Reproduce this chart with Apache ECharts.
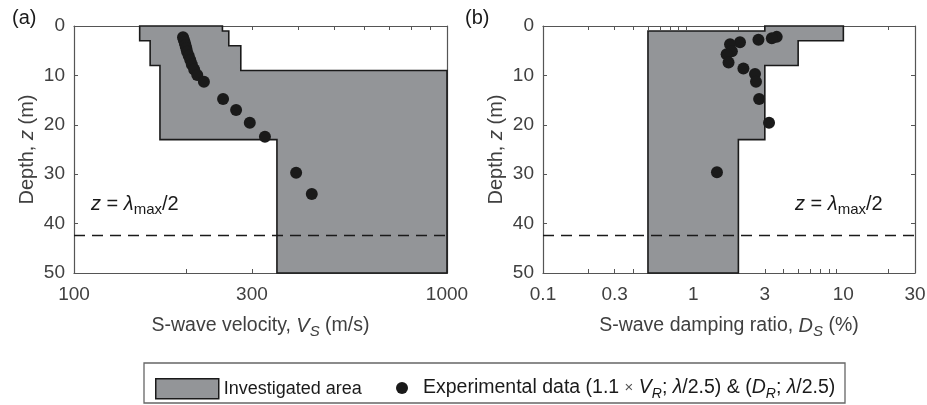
<!DOCTYPE html>
<html>
<head>
<meta charset="utf-8">
<script src="https://cdn.jsdelivr.net/npm/echarts@6/dist/echarts.min.js"></script>
</head>
<body style="margin:0">
<div id="main" style="width:927px;height:405px"></div>
<script>
// investigated area, as step profiles: layer boundaries (m) and layer values
var vsLowDepth = [0, 3, 8, 23, 50];
var vsLow = [150, 160, 170, 350];
var vsHighDepth = [0, 1, 4, 9, 50];
var vsHigh = [250, 260, 280, 1000];
var dsLowDepth = [0, 1, 50];
var dsLow = [3, 0.5];
var dsHighDepth = [0, 3, 8, 23, 50];
var dsHigh = [10, 5, 3, 2];

// experimental data
var vsExp = [196, 197, 198, 199, 200, 201, 203, 205, 207, 210, 214, 223, 251, 272, 296, 325, 394, 434];
var vsExpDepth = [2.3, 2.8, 3.3, 3.9, 4.5, 5.2, 6.0, 6.9, 7.8, 8.8, 9.9, 11.3, 14.8, 17.0, 19.6, 22.4, 29.7, 34.0];
var dsExp = [3.6, 3.34, 2.72, 2.05, 1.76, 1.81, 1.67, 1.72, 2.16, 2.58, 2.62, 2.75, 3.2, 1.44];
var dsExpDepth = [2.2, 2.5, 2.8, 3.3, 3.7, 5.1, 5.7, 7.4, 8.6, 9.7, 11.3, 14.8, 19.6, 29.6];

var halfLambda = 42.4;

// ticks
var vsLabels = [100, 300, 1000];
var vsTicks = [200, 300, 400, 500, 600, 700, 800, 900];
var dsLabels = [0.1, 0.3, 1, 3, 10, 30];
var dsTicks = [0.2, 0.3, 0.4, 0.5, 0.6, 0.7, 0.8, 0.9, 2, 3, 4, 5, 6, 7, 8, 9, 20];

var FONT = 'Liberation Sans, Arial, sans-serif';
var TXT = '#404040';
var AX = '#555555';

function areaPolygon(lowDepth, low, highDepth, high) {
    var pts = [];
    for (var i = 0; i < low.length; i++) {
        pts.push([low[i], lowDepth[i]]);
        pts.push([low[i], lowDepth[i + 1]]);
    }
    for (var j = high.length - 1; j >= 0; j--) {
        pts.push([high[j], highDepth[j + 1]]);
        pts.push([high[j], highDepth[j]]);
    }
    return pts;
}

function zip(xs, ys) {
    return xs.map(function (x, i) { return [x, ys[i]]; });
}

var rich = {
    i: {fontStyle: 'italic', fontSize: 20, fontFamily: FONT, color: TXT},
    sub: {fontStyle: 'italic', fontSize: 15, fontFamily: FONT, color: TXT, verticalAlign: 'bottom', lineHeight: 14}
};

function fmt(v) { return String(+(+v).toPrecision(2)); }

function xAxes(grid, min, max, labels, ticks, name) {
    return [{
        type: 'log', logBase: 10, gridIndex: grid, min: min, max: max,
        position: 'bottom',
        axisLine: {onZero: false, lineStyle: {color: AX, width: 1.2}},
        axisTick: {inside: true, length: 4, customValues: ticks, lineStyle: {color: AX}},
        axisLabel: {customValues: labels, formatter: fmt, fontSize: 19, fontFamily: FONT, color: TXT, margin: 12},
        splitLine: {show: false},
        name: name, nameLocation: 'middle', nameGap: 40,
        nameTextStyle: {fontSize: 19.5, fontFamily: FONT, color: TXT, lineHeight: 26, rich: rich}
    }, {
        type: 'log', logBase: 10, gridIndex: grid, min: min, max: max,
        position: 'top',
        axisLine: {onZero: false, lineStyle: {color: AX, width: 1.2}},
        axisTick: {inside: true, length: 4, customValues: ticks, lineStyle: {color: AX}},
        axisLabel: {show: false},
        splitLine: {show: false}
    }];
}

function yAxes(grid) {
    return [{
        type: 'value', gridIndex: grid, inverse: true, min: 0, max: 50, interval: 10,
        position: 'left',
        axisLine: {show: true, onZero: false, lineStyle: {color: AX, width: 1.2}},
        axisTick: {show: true, inside: true, length: 4, lineStyle: {color: AX}},
        axisLabel: {fontSize: 19, fontFamily: FONT, color: TXT, margin: 9},
        splitLine: {show: false},
        name: 'Depth, {i|z} (m)', nameLocation: 'middle', nameGap: 37,
        nameTextStyle: {fontSize: 20, fontFamily: FONT, color: TXT, rich: rich}
    }, {
        type: 'value', gridIndex: grid, inverse: true, min: 0, max: 50, interval: 10,
        position: 'right',
        axisLine: {show: true, onZero: false, lineStyle: {color: AX, width: 1.2}},
        axisTick: {show: true, inside: true, length: 4, lineStyle: {color: AX}},
        axisLabel: {show: false},
        splitLine: {show: false}
    }];
}

function polySeries(xi, yi, pts) {
    return {
        type: 'custom', name: 'Investigated area',
        xAxisIndex: xi, yAxisIndex: yi,
        data: pts, encode: {x: 0, y: 1},
        itemStyle: {color: '#939598', borderColor: '#1a1a1a', borderWidth: 1.5},
        silent: true, z: 1,
        renderItem: function (params, api) {
            if (params.dataIndex !== 0) return null;
            var points = pts.map(function (p) { return api.coord(p); });
            return {
                type: 'polygon',
                shape: {points: points},
                style: {fill: '#939598', stroke: '#1a1a1a', lineWidth: 1.6}
            };
        }
    };
}

function dotSeries(xi, yi, pts) {
    return {
        type: 'scatter', name: 'Experimental data',
        xAxisIndex: xi, yAxisIndex: yi,
        data: pts, symbolSize: 12, z: 5,
        itemStyle: {color: '#1a1a1a', opacity: 1},
        markLine: {
            silent: true, symbol: 'none', label: {show: false},
            lineStyle: {type: [11, 7], color: '#1a1a1a', width: 1.3},
            data: [{yAxis: halfLambda}]
        }
    };
}

var chart = echarts.init(document.getElementById('main'));

var annot = '{z|z} = {l|λ}{m|max}/2';
var annotRich = {
    z: {fontStyle: 'italic', fontSize: 20, fontFamily: FONT, color: '#1a1a1a'},
    l: {fontStyle: 'italic', fontSize: 20, fontFamily: FONT, color: '#1a1a1a'},
    m: {fontSize: 15, fontFamily: FONT, color: '#1a1a1a', verticalAlign: 'bottom', lineHeight: 14}
};

chart.setOption({
    animation: false,
    backgroundColor: '#ffffff',
    grid: [
        {left: 74, top: 26, width: 373, height: 247, outerBoundsMode: 'none'},
        {left: 543, top: 26, width: 372, height: 247, outerBoundsMode: 'none'}
    ],
    xAxis: xAxes(0, 100, 1000, vsLabels, vsTicks, 'S-wave velocity, {i|V}{sub|S} (m/s)')
        .concat(xAxes(1, 0.1, 30, dsLabels, dsTicks, 'S-wave damping ratio, {i|D}{sub|S} (%)')),
    yAxis: yAxes(0).concat(yAxes(1)),
    legend: [{
        data: [{name: 'Investigated area', icon: 'rect',
            itemStyle: {color: '#939598', borderColor: '#1a1a1a', borderWidth: 1.5}}],
        left: 150, top: 373, itemWidth: 63, itemHeight: 20,
        selectedMode: false,
        textStyle: {fontSize: 18, fontFamily: FONT, color: '#1a1a1a'}
    }, {
        data: [{name: 'Experimental data', icon: 'circle'}],
        left: 391, top: 370, itemWidth: 32, itemHeight: 12,
        selectedMode: false,
        formatter: function () {
            return 'Experimental data (1.1 {x|×} {i|V}{s|R}; {i|λ}/2.5) & ({i|D}{s|R}; {i|λ}/2.5)';
        },
        textStyle: {
            fontSize: 19.5, fontFamily: FONT, color: '#1a1a1a', lineHeight: 26,
            rich: {
                i: {fontStyle: 'italic', fontSize: 19.5, fontFamily: FONT, color: '#1a1a1a'},
                s: {fontStyle: 'italic', fontSize: 14, fontFamily: FONT, color: '#1a1a1a', verticalAlign: 'bottom', lineHeight: 13},
                x: {fontSize: 15, fontFamily: FONT, color: '#555'}
            }
        }
    }],
    graphic: [
        {type: 'rect', shape: {x: 144, y: 363, width: 701, height: 40},
            style: {fill: 'none', stroke: '#666', lineWidth: 1.3}, silent: true},
        {type: 'text', left: 12, top: 8, style: {text: '(a)', fontSize: 20, fontFamily: FONT, fill: '#1a1a1a'}},
        {type: 'text', left: 465, top: 8, style: {text: '(b)', fontSize: 20, fontFamily: FONT, fill: '#1a1a1a'}},
        {type: 'text', left: 91, top: 191, style: {text: annot, fontSize: 20, fontFamily: FONT, fill: '#1a1a1a', lineHeight: 26, rich: annotRich}},
        {type: 'text', left: 795, top: 191, style: {text: annot, fontSize: 20, fontFamily: FONT, fill: '#1a1a1a', lineHeight: 26, rich: annotRich}}
    ],
    series: [
        polySeries(0, 0, areaPolygon(vsLowDepth, vsLow, vsHighDepth, vsHigh)),
        dotSeries(0, 0, zip(vsExp, vsExpDepth)),
        polySeries(2, 2, areaPolygon(dsLowDepth, dsLow, dsHighDepth, dsHigh)),
        dotSeries(2, 2, zip(dsExp, dsExpDepth))
    ]
});
</script>
</body>
</html>
